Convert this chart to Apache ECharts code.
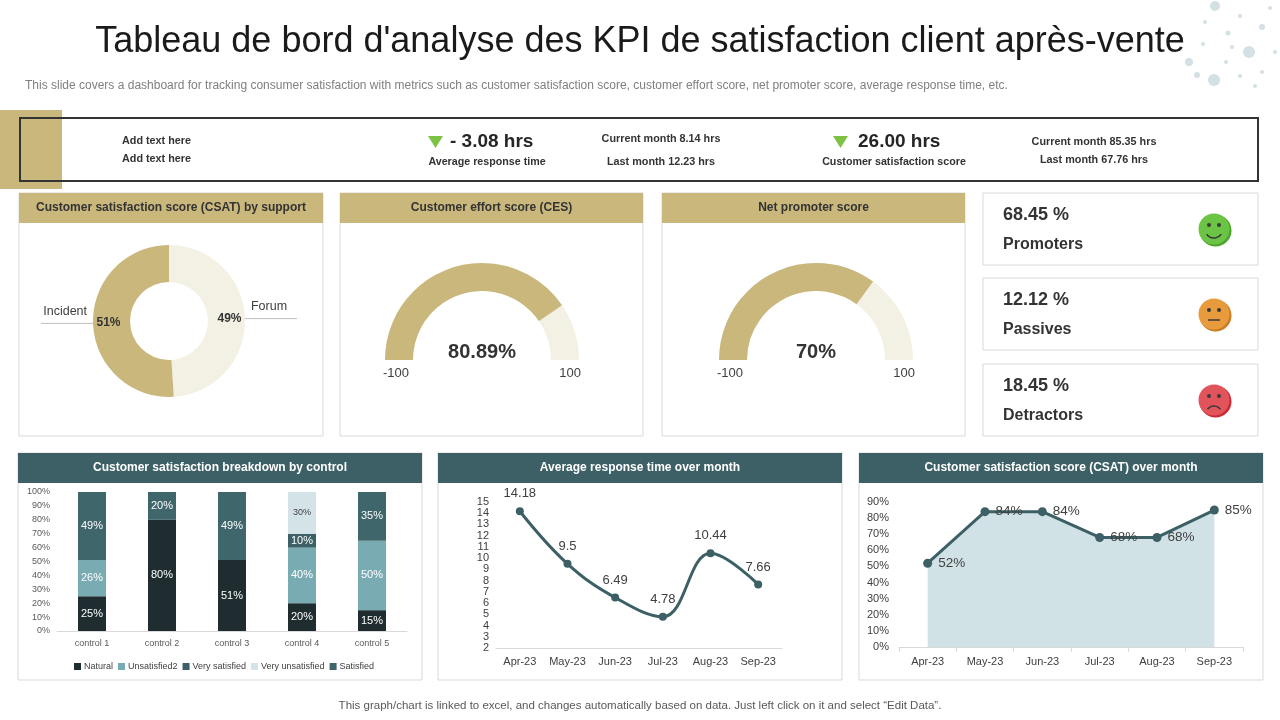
<!DOCTYPE html>
<html>
<head>
<meta charset="utf-8">
<title>Tableau de bord KPI satisfaction client</title>
<script src="https://cdn.jsdelivr.net/npm/echarts@6/dist/echarts.min.js"></script>
<style>
  html, body { margin: 0; padding: 0; background: #fff; }
  #main { width: 1280px; height: 720px; }
</style>
</head>
<body>
<div id="main"></div>
<script>
// ---- data ----
var supportNames = ['Forum', 'Incident'];
var supportValues = [49, 51];

var cesValue = 80.89;
var npsValue = 70;
var gaugeEnds = ['-100', '100'];

var npsNames = ['Promoters', 'Passives', 'Detractors'];
var npsShares = ['68.45 %', '12.12 %', '18.45 %'];

var respKpi = ['- 3.08 hrs', 'Average response time', 'Current month 8.14 hrs', 'Last month 12.23 hrs'];
var csatKpi = ['26.00 hrs', 'Customer satisfaction score', 'Current month 85.35 hrs', 'Last month 67.76 hrs'];

var controls = ['control 1', 'control 2', 'control 3', 'control 4', 'control 5'];
var natural = [25, 80, 51, 20, 15];
var unsatisfied2 = [26, 0, 0, 40, 50];
var verySatisfied = [0, 0, 0, 10, 0];
var veryUnsatisfied = [0, 0, 0, 30, 0];
var satisfied = [49, 20, 49, 0, 35];

var months = ['Apr-23', 'May-23', 'Jun-23', 'Jul-23', 'Aug-23', 'Sep-23'];
var responseTime = [14.18, 9.5, 6.49, 4.78, 10.44, 7.66];
var csatMonthly = [52, 84, 84, 68, 68, 85];

// ---- styles ----
var GOLD = '#c9b77c', CREAM = '#f3f0e4', TEAL = '#3c6065', DARK = '#1f2d30';
var LTEAL = '#79abb3', PALE = '#d4e3e7', AREA = '#d1e2e6', BORDER = '#d9d9d9';
var FONT = '"Liberation Sans", Arial, sans-serif';

var g = [];
function rect(x, y, w, h, fill, stroke, lw) {
  g.push({ type: 'rect', z: -10, shape: { x: x, y: y, width: w, height: h },
    style: { fill: fill || 'none', stroke: stroke || null, lineWidth: lw || 1 } });
}
function text(x, y, s, size, opt) {
  opt = opt || {};
  g.push({ type: 'text', z: -5, x: x, y: y, style: {
    text: s, fontSize: size, fontFamily: opt.family || FONT, fontWeight: opt.weight || 'normal',
    fill: opt.color || '#333', align: opt.align || 'left', textAlign: opt.align || 'left',
    verticalAlign: 'middle', textVerticalAlign: 'middle' } });
}
function tri(x, y) {
  g.push({ type: 'polygon', z: -5, shape: { points: [[x, y], [x + 15, y], [x + 7.5, y + 12]] },
    style: { fill: '#7dc242' } });
}
function panel(x, y, w, h, head, headColor, headText, fs) {
  rect(x, y, w, h, '#fff', BORDER, 1);
  rect(x, y, w, 30, headColor);
  text(x + w / 2, y + 15, head, fs, { align: 'center', weight: 'bold', color: headText });
}
function face(cx, cy, fill, rim, mood) {
  g.push({ type: 'circle', z: -5, shape: { cx: cx + 1.5, cy: cy + 1.5, r: 16 }, style: { fill: rim } });
  g.push({ type: 'circle', z: -4, shape: { cx: cx, cy: cy, r: 15.5 }, style: { fill: fill } });
  g.push({ type: 'circle', z: -3, shape: { cx: cx - 5, cy: cy - 4, r: 2 }, style: { fill: '#3a3a3a' } });
  g.push({ type: 'circle', z: -3, shape: { cx: cx + 5, cy: cy - 4, r: 2 }, style: { fill: '#3a3a3a' } });
  var ms = { stroke: '#3a3a3a', lineWidth: 1.5, fill: 'none' };
  if (mood === 'happy') {
    g.push({ type: 'arc', z: -3, shape: { cx: cx, cy: cy, r: 9, startAngle: 0.2 * Math.PI, endAngle: 0.8 * Math.PI }, style: ms });
  } else if (mood === 'neutral') {
    g.push({ type: 'line', z: -3, shape: { x1: cx - 6, y1: cy + 6, x2: cx + 6, y2: cy + 6 }, style: ms });
  } else {
    g.push({ type: 'arc', z: -3, shape: { cx: cx, cy: cy + 14, r: 8, startAngle: 1.2 * Math.PI, endAngle: 1.8 * Math.PI }, style: ms });
  }
}

// header
text(640, 42, "Tableau de bord d'analyse des KPI de satisfaction client après-vente", 36,
  { align: 'center', color: '#1a1a1a', family: '"Comic Sans MS", cursive, ' + FONT });
text(25, 86, 'This slide covers a dashboard for tracking consumer satisfaction with metrics such as customer satisfaction score, customer effort score, net promoter score, average response time, etc.', 12, { color: '#7f7f7f' });
[[1215, 6, 5], [1240, 16, 2], [1262, 27, 3], [1228, 33, 2.5], [1249, 52, 6], [1203, 44, 2], [1189, 62, 4],
 [1214, 80, 6], [1262, 72, 2], [1275, 52, 2], [1240, 76, 2], [1205, 22, 2], [1226, 62, 2], [1270, 8, 2],
 [1197, 75, 3], [1255, 86, 2], [1232, 47, 2]]
 .forEach(function (d) {
   g.push({ type: 'circle', z: -10, shape: { cx: d[0], cy: d[1], r: d[2] }, style: { fill: '#d3e0e4' } });
 });

// KPI strip
rect(0, 110, 62, 79, GOLD);
rect(20, 118, 1238, 63, null, '#333', 2);
text(122, 141, 'Add text here', 10.8, { weight: 'bold' });
text(122, 159, 'Add text here', 10.8, { weight: 'bold' });
tri(428, 136);
text(450, 142, respKpi[0], 19, { weight: 'bold', color: '#262626' });
text(487, 162, respKpi[1], 10.7, { weight: 'bold', align: 'center' });
text(661, 139, respKpi[2], 10.8, { weight: 'bold', align: 'center' });
text(661, 162, respKpi[3], 10.8, { weight: 'bold', align: 'center' });
tri(833, 136);
text(858, 142, csatKpi[0], 19, { weight: 'bold', color: '#262626' });
text(894, 162, csatKpi[1], 10.7, { weight: 'bold', align: 'center' });
text(1094, 142, csatKpi[2], 10.8, { weight: 'bold', align: 'center' });
text(1094, 160, csatKpi[3], 10.8, { weight: 'bold', align: 'center' });

// panels
panel(19, 193, 304, 243, 'Customer satisfaction score (CSAT) by support', GOLD, '#333', 12);
panel(340, 193, 303, 243, 'Customer effort score (CES)', GOLD, '#333', 12);
panel(662, 193, 303, 243, 'Net promoter score', GOLD, '#333', 12);
panel(18, 453, 404, 227, 'Customer satisfaction breakdown by control', TEAL, '#fff', 12);
panel(438, 453, 404, 227, 'Average response time over month', TEAL, '#fff', 12);
panel(859, 453, 404, 227, 'Customer satisfaction score (CSAT) over month', TEAL, '#fff', 12);

// NPS cards
var faces = [['#6cc444', '#4aa52c', 'happy'], ['#e89b3c', '#c97d22', 'neutral'], ['#e2545c', '#c92a34', 'sad']];
[193, 278, 364].forEach(function (y, i) {
  rect(983, y, 275, 72, '#fff', BORDER, 1);
  text(1003, y + 22, npsShares[i], 18, { weight: 'bold', color: '#333' });
  text(1003, y + 52, npsNames[i], 16, { weight: 'bold', color: '#333' });
  face(1214, y + 36, faces[i][0], faces[i][1], faces[i][2]);
});

text(640, 706, 'This graph/chart is linked to excel, and changes automatically based on data. Just left click on it and select \u201cEdit Data\u201d.', 11.5, { align: 'center', color: '#595959' });

// ---- series helpers ----
function barSeries(name, data, color, lblColor, lblSize) {
  return {
    name: name, type: 'bar', stack: 'ctrl', xAxisIndex: 0, yAxisIndex: 0, barWidth: 28,
    data: data, itemStyle: { color: color },
    label: { show: true, position: 'inside', color: lblColor, fontSize: lblSize, fontFamily: FONT,
      formatter: function (p) { return p.value ? p.value + '%' : ''; } }
  };
}
function gauge(cx, value) {
  return {
    type: 'gauge', center: [cx, 360], radius: 97, startAngle: 180, endAngle: 0, min: 0, max: 100,
    splitNumber: 1,
    axisLine: { lineStyle: { width: 28, color: [[1, CREAM]] } },
    progress: { show: true, width: 28, itemStyle: { color: GOLD } },
    pointer: { show: false }, anchor: { show: false }, axisTick: { show: false },
    splitLine: { show: false, length: 0, distance: 0 },
    axisLabel: { show: true, distance: -2, color: '#404040', fontSize: 13, fontFamily: FONT,
      formatter: function (v) { return '{e|' + (v <= 0 ? gaugeEnds[0] : gaugeEnds[1]) + '}'; },
      rich: { e: { padding: [26, 0, 0, 0], fontSize: 13, color: '#404040', fontFamily: FONT } } },
    title: { show: false },
    detail: { formatter: '{value}%', offsetCenter: [0, -8], fontSize: 20, fontWeight: 'bold',
      color: '#333', fontFamily: FONT, valueAnimation: false },
    data: [{ value: value }]
  };
}

var axisTxt = { color: '#404040', fontFamily: FONT };
var chart = echarts.init(document.getElementById('main'));
chart.setOption({
  animation: false,
  backgroundColor: '#fff',
  graphic: { elements: g },
  legend: {
    data: ['Natural', 'Unsatisfied2', 'Very satisfied', 'Very unsatisfied', 'Satisfied'],
    left: 69, top: 657, icon: 'rect', itemWidth: 7, itemHeight: 7, itemGap: 5,
    textStyle: { fontSize: 9, color: '#404040', fontFamily: FONT, padding: [0, 0, 0, -2] }
  },
  grid: [
    { left: 57, top: 492, width: 350, height: 139 },
    { left: 496, top: 502, width: 286, height: 146 },
    { left: 899, top: 502, width: 344, height: 145 }
  ],
  xAxis: [
    { type: 'category', gridIndex: 0, data: controls, axisTick: { show: false },
      axisLine: { lineStyle: { color: BORDER } },
      axisLabel: Object.assign({ fontSize: 9, margin: 8 }, axisTxt, { color: '#595959' }) },
    { type: 'category', gridIndex: 1, data: months, axisTick: { show: false },
      axisLine: { lineStyle: { color: BORDER } },
      axisLabel: Object.assign({ fontSize: 11, margin: 8, interval: 0 }, axisTxt) },
    { type: 'category', gridIndex: 2, data: months,
      axisTick: { show: true, length: 5, lineStyle: { color: BORDER } },
      axisLine: { lineStyle: { color: BORDER } },
      axisLabel: Object.assign({ fontSize: 11, margin: 9, interval: 0 }, axisTxt) }
  ],
  yAxis: [
    { type: 'value', gridIndex: 0, min: 0, max: 100, interval: 10, splitLine: { show: false },
      axisLabel: Object.assign({ fontSize: 9, margin: 7, formatter: '{value}%' }, axisTxt, { color: '#595959' }) },
    { type: 'value', gridIndex: 1, min: 2, max: 15, interval: 1, splitLine: { show: false },
      axisLabel: Object.assign({ fontSize: 11, margin: 7, lineHeight: 11 }, axisTxt) },
    { type: 'value', gridIndex: 2, min: 0, max: 90, interval: 10, splitLine: { show: false },
      axisLabel: Object.assign({ fontSize: 11, margin: 10, formatter: '{value}%' }, axisTxt) }
  ],
  series: [
    {
      type: 'pie', center: [169, 321], radius: [39, 76], startAngle: 90, avoidLabelOverlap: false,
      data: supportNames.map(function (n, i) { return { name: n, value: supportValues[i] }; }),
      color: [CREAM, GOLD],
      label: { show: true, position: 'inside', formatter: '{c}%', fontSize: 12, fontWeight: 'bold',
        color: '#333', fontFamily: FONT },
      labelLine: { show: false }
    },
    {
      type: 'pie', center: [169, 321], radius: [39, 76], startAngle: 90, avoidLabelOverlap: false,
      silent: true, z: 1,
      data: supportNames.map(function (n, i) { return { name: n, value: supportValues[i] }; }),
      itemStyle: { color: 'rgba(0,0,0,0)' },
      label: { show: true, position: 'outside', formatter: '{b}\n ', lineHeight: 24, fontSize: 12.5,
        color: '#404040', fontFamily: FONT, distanceToLabelLine: -46 },
      labelLine: { show: true, length: 0, length2: 52, lineStyle: { color: '#bfbfbf', width: 1 } }
    },
    gauge(482, cesValue),
    gauge(816, npsValue),
    barSeries('Natural', natural, DARK, '#fff', 11),
    barSeries('Unsatisfied2', unsatisfied2, LTEAL, '#fff', 11),
    barSeries('Very satisfied', verySatisfied, TEAL, '#fff', 11),
    barSeries('Very unsatisfied', veryUnsatisfied, PALE, '#404040', 9),
    barSeries('Satisfied', satisfied, '#3f666b', '#fff', 11),
    {
      name: 'Average response time', type: 'line', xAxisIndex: 1, yAxisIndex: 1, smooth: 0.4,
      data: responseTime, symbol: 'circle', symbolSize: 8,
      lineStyle: { color: TEAL, width: 3 }, itemStyle: { color: TEAL },
      label: { show: true, position: 'top', distance: 7, fontSize: 13, color: '#404040', fontFamily: FONT }
    },
    {
      name: 'CSAT', type: 'line', xAxisIndex: 2, yAxisIndex: 2,
      data: csatMonthly, symbol: 'circle', symbolSize: 9,
      lineStyle: { color: TEAL, width: 3 }, itemStyle: { color: TEAL },
      areaStyle: { color: AREA, opacity: 1 },
      label: { show: true, position: 'right', distance: 6, formatter: '{c}%', fontSize: 13.5,
        color: '#404040', fontFamily: FONT }
    }
  ]
});
</script>
</body>
</html>
